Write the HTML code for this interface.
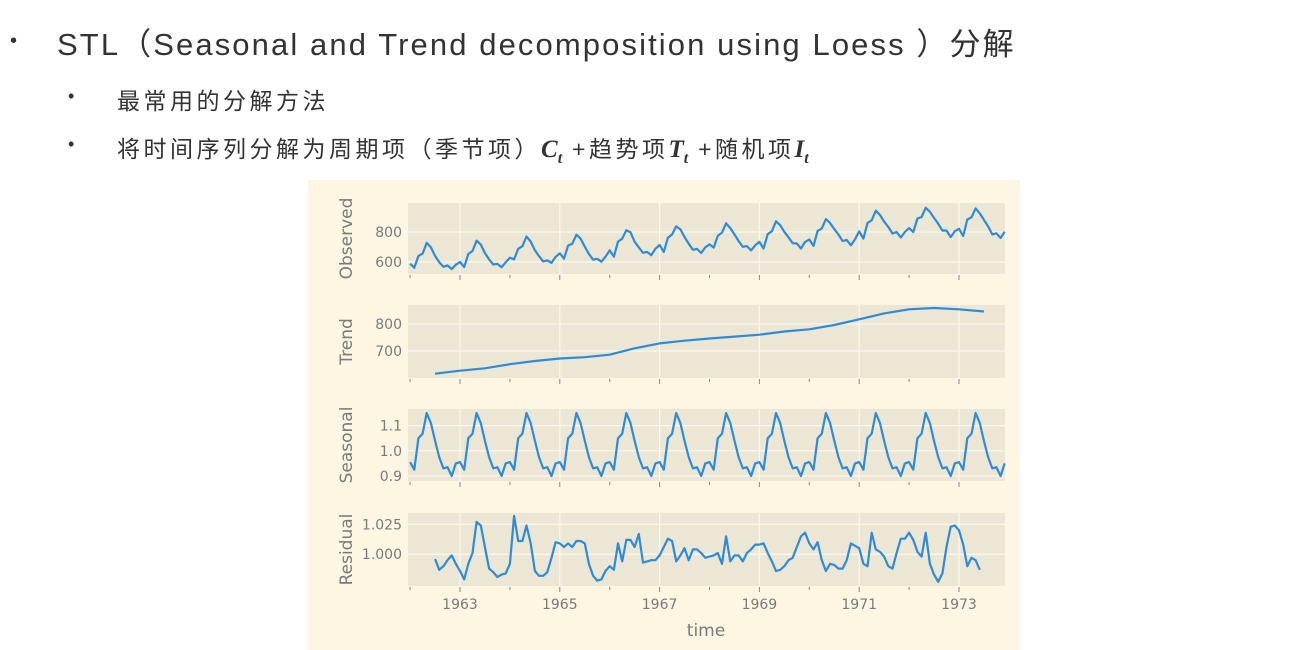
<!DOCTYPE html>
<html><head><meta charset="utf-8">
<style>
body{margin:0;width:1289px;height:650px;background:#fff;position:relative;overflow:hidden;font-family:"Liberation Sans","Noto Sans CJK SC",sans-serif;color:#333}
.t{position:absolute;white-space:nowrap}
.m{font-family:'Liberation Serif',serif;font-weight:bold;font-style:italic;font-size:25px;letter-spacing:0}
.m sub{font-size:16px}
</style></head><body>
<div class="t" style="left:10px;top:30px;font-size:20px">•</div>
<div class="t" style="left:57px;top:19px;font-size:31px;letter-spacing:2.1px;color:#333">STL（Seasonal and Trend decomposition using Loess ）分解</div>
<div class="t" style="left:68px;top:86px;font-size:18px">•</div>
<div class="t" style="left:117px;top:82px;font-size:23px;letter-spacing:3.5px">最常用的分解方法</div>
<div class="t" style="left:68px;top:134px;font-size:18px">•</div>
<div class="t" style="left:117px;top:130px;font-size:23px;letter-spacing:3.5px">将时间序列分解为周期项（季节项）<span class="m">C<sub>t</sub></span> +趋势项<span class="m">T<sub>t</sub></span> +随机项<span class="m">I<sub>t</sub></span></div>
<svg id="chart" style="position:absolute;left:0;top:0" width="1289" height="650"></svg>
<script>
const observed=[589,561,640,656,727,697,640,599,568,577,553,582,600,566,653,673,742,716,660,617,583,587,565,598,628,618,688,705,770,736,678,639,604,611,594,634,658,622,709,722,782,756,702,653,615,621,602,635,677,635,736,755,811,798,735,697,661,667,645,688,713,667,762,784,837,817,767,722,681,687,660,698,717,696,775,796,858,826,783,740,701,706,677,711,734,690,785,805,871,845,801,764,725,723,690,734,750,707,807,824,886,859,819,783,740,747,711,751,804,756,860,878,942,913,869,834,790,800,763,800,826,799,890,900,961,935,894,855,809,810,766,805,821,773,883,898,957,924,881,837,784,791,760,802];
const trendYears=[1962.5,1963,1963.5,1964,1964.5,1965,1965.5,1966,1966.5,1967,1967.5,1968,1968.5,1969,1969.5,1970,1970.5,1971,1971.5,1972,1972.5,1973,1973.5];
const trend=[616,627,636,651,663,672,677,686,710,728,738,746,753,760,772,780,796,817,839,854,859,854,846];
const seasonalPattern=[0.955,0.925,1.05,1.068,1.15,1.11,1.04,0.975,0.93,0.935,0.9,0.95];
const residual=[0.996,0.987,0.990,0.995,0.999,0.992,0.986,0.979,0.992,1.001,1.027,1.024,1.006,0.988,0.985,0.981,0.983,0.984,0.992,1.032,1.011,1.011,1.024,1.009,0.986,0.982,0.982,0.985,0.997,1.010,1.009,1.006,1.009,1.006,1.011,1.011,1.009,0.992,0.982,0.978,0.979,0.986,0.990,0.987,1.009,0.994,1.012,1.012,1.006,1.017,0.993,0.994,0.995,0.995,0.999,1.006,1.013,1.011,0.994,0.999,1.005,0.995,1.004,1.004,1.001,0.997,0.998,0.999,1.001,0.992,1.015,0.994,0.999,0.999,0.994,1.001,1.004,1.008,1.008,1.009,1.001,0.994,0.986,0.987,0.990,0.995,0.997,1.006,1.015,1.018,1.009,1.004,1.010,0.995,0.986,0.992,0.991,0.988,0.988,0.995,1.009,1.007,1.005,0.992,0.990,1.018,1.004,1.002,0.998,0.990,0.988,1.001,1.013,1.013,1.018,1.012,1.002,0.998,1.018,0.992,0.983,0.977,0.984,1.006,1.023,1.024,1.020,1.008,0.990,0.997,0.995,0.987];
const yearTicks=[1963,1965,1967,1969,1971,1973];
const minorTicks=[1962,1964,1966,1968,1970,1972];
const obsTicks=[600,800], trendTicks=[700,800], seasTicks=[0.9,1.0,1.1], resTicks=[1.000,1.025];
const obsTL=["600","800"], trendTL=["700","800"], seasTL=["0.9","1.0","1.1"], resTL=["1.000","1.025"];

const NS="http://www.w3.org/2000/svg", svg=document.getElementById('chart');
function mk(t,a,p){const e=document.createElementNS(NS,t);for(const k in a)e.setAttribute(k,a[k]);(p||svg).appendChild(e);return e;}
const X=yr=>460+(yr-1963)*49.9;
const L=408,R=1005;
const bg=mk('rect',{x:308,y:180,width:712,height:470,fill:'#fdf6e3'});


const panels=[
 {name:'observed',label:'Observed',top:203,bot:274,vmin:520,vmax:993,ticks:obsTicks,tl:obsTL},
 {name:'trend',label:'Trend',top:305,bot:378,vmin:600,vmax:870,ticks:trendTicks,tl:trendTL},
 {name:'seasonal',label:'Seasonal',top:409,bot:481,vmin:0.88,vmax:1.166,ticks:seasTicks,tl:seasTL},
 {name:'residual',label:'Residual',top:513,bot:586,vmin:0.9735,vmax:1.0344,ticks:resTicks,tl:resTL}];
panels.forEach((p,pi)=>{
 p.Y=v=>p.bot-(v-p.vmin)/(p.vmax-p.vmin)*(p.bot-p.top);
 const g=mk('g',{});
 
 
 mk('rect',{x:L,y:p.top,width:R-L,height:p.bot-p.top,fill:'#ece6d5'},g);
 yearTicks.forEach(y=>{mk('line',{x1:X(y),x2:X(y),y1:p.top,y2:p.bot,stroke:'#fbf8ef','stroke-width':1.2},g);
   mk('line',{x1:X(y),x2:X(y),y1:p.bot+1,y2:p.bot+6,stroke:'#888','stroke-width':1},g);});
 minorTicks.forEach(y=>mk('line',{x1:X(y),x2:X(y),y1:p.bot+1,y2:p.bot+4,stroke:'#888','stroke-width':1},g));
 p.ticks.forEach((v,i)=>{const yy=p.Y(v);
   mk('line',{x1:L,x2:R,y1:yy,y2:yy,stroke:'#fbf8ef','stroke-width':1.2},g);
   const t=mk('text',{x:L-6,y:yy+5,'text-anchor':'end','font-size':14,fill:'#7a7a7a','font-family':'DejaVu Sans, sans-serif'},g);
   t.textContent=p.tl[i];
   
   });
 const cy=(p.top+p.bot)/2;
 const lab=mk('text',{x:352,y:cy,'text-anchor':'middle','font-size':17,fill:'#7a7a7a','font-family':'DejaVu Sans, sans-serif',transform:`rotate(-90 352 ${cy})`},g);
 lab.textContent=p.label;
 
 
});
function line(pts,p,name){
 const e=mk('polyline',{points:pts.map(q=>X(q[0]).toFixed(1)+','+p.Y(q[1]).toFixed(1)).join(' '),fill:'none',stroke:'#2e8bd6','stroke-width':2.2,'stroke-linejoin':'round'});
 
 
}
line(observed.map((v,i)=>[1962+i/12,v]),panels[0],'observed-line');
line(trend.map((v,i)=>[trendYears[i],v]),panels[1],'trend-line');
line(observed.map((v,i)=>[1962+i/12,seasonalPattern[i%12]]),panels[2],'seasonal-line');
line(residual.map((v,i)=>[1962.5+i/12,v]),panels[3],'residual-line');
yearTicks.forEach(y=>{const t=mk('text',{x:X(y),y:609,'text-anchor':'middle','font-size':14,fill:'#7a7a7a','font-family':'DejaVu Sans, sans-serif'});
 t.textContent=String(y);
 
 });
const xt=mk('text',{x:706,y:636,'text-anchor':'middle','font-size':17,fill:'#7a7a7a','font-family':'DejaVu Sans, sans-serif'});
xt.textContent='time';


</script>
</body></html>
